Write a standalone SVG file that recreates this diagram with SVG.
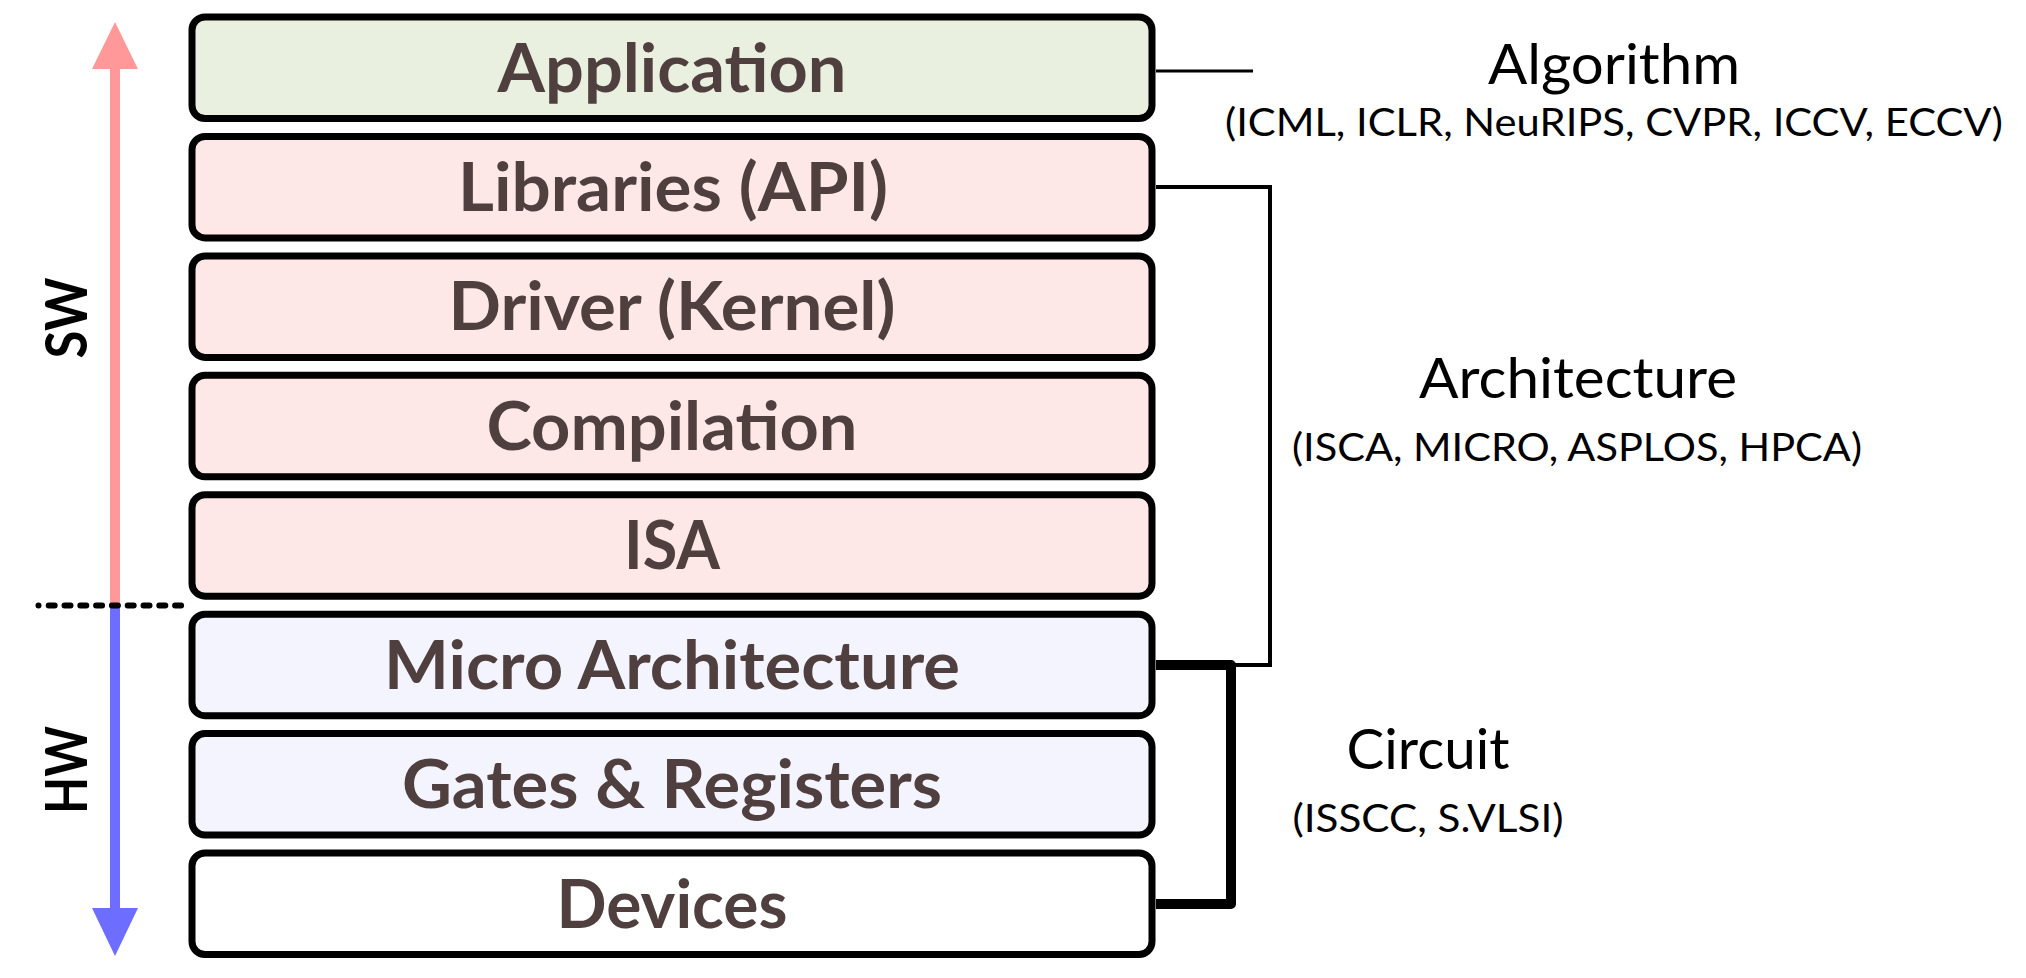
<svg xmlns="http://www.w3.org/2000/svg" width="2026" height="978" viewBox="0 0 2026 978">
<style>
.box{stroke:#000;stroke-width:7}
.lbl{font-family:Lato,"Open Sans",sans-serif;font-weight:bold;font-size:66px;fill:#4F3F3F;text-anchor:middle}
.side{font-family:Lato,"Open Sans",sans-serif;font-weight:bold;font-size:58px;fill:#000;text-anchor:middle}
.ttl{font-family:Lato,"Open Sans",sans-serif;font-size:57px;fill:#000;text-anchor:middle}
.sub{font-family:Lato,"Open Sans",sans-serif;font-size:38px;fill:#000;text-anchor:middle}
.conn{fill:none;stroke:#000}
</style>
<rect width="2026" height="978" fill="#fff"/>
<g id="swhw-axis">
<rect x="110" y="66" width="10" height="540" fill="#FF9999"/>
<polygon points="115,22 138,69 92,69" fill="#FF9999"/>
<rect x="110" y="605" width="10" height="305" fill="#6D6DFF"/>
<polygon points="115,956 138,908 92,908" fill="#6D6DFF"/>
<circle cx="38.5" cy="605.5" r="3" fill="#000"/>
<line x1="48.7" y1="605.5" x2="185" y2="605.5" stroke="#000" stroke-width="6" stroke-linecap="round" stroke-dasharray="6 9.8"/>
<text class="side" transform="translate(66,318) rotate(-90)" x="0" y="21" textLength="81" lengthAdjust="spacingAndGlyphs">SW</text>
<text class="side" transform="translate(66,770) rotate(-90)" x="0" y="21" textLength="88" lengthAdjust="spacingAndGlyphs">HW</text>
</g>
<g id="application"><rect class="box" x="192" y="17" width="960" height="101.5" rx="13" fill="#E9F0DF"/><text class="lbl" x="672" y="91.5" textLength="349" lengthAdjust="spacingAndGlyphs">Application</text></g>
<g id="libraries"><rect class="box" x="192" y="136.4" width="960" height="101.5" rx="13" fill="#FDE8E7"/><text class="lbl" x="673" y="211" textLength="430" lengthAdjust="spacingAndGlyphs">Libraries (API)</text></g>
<g id="driver"><rect class="box" x="192" y="255.9" width="960" height="101.5" rx="13" fill="#FDE8E7"/><text class="lbl" x="672" y="330.4" textLength="447" lengthAdjust="spacingAndGlyphs">Driver (Kernel)</text></g>
<g id="compilation"><rect class="box" x="192" y="375.3" width="960" height="101.5" rx="13" fill="#FDE8E7"/><text class="lbl" x="672" y="449.8" textLength="371" lengthAdjust="spacingAndGlyphs">Compilation</text></g>
<g id="isa"><rect class="box" x="192" y="494.7" width="960" height="101.5" rx="13" fill="#FDE8E7"/><text class="lbl" x="672" y="569.2" textLength="96" lengthAdjust="spacingAndGlyphs">ISA</text></g>
<g id="micro-architecture"><rect class="box" x="192" y="614.2" width="960" height="101.5" rx="13" fill="#F3F4FE"/><text class="lbl" x="672" y="688.7" textLength="576" lengthAdjust="spacingAndGlyphs">Micro Architecture</text></g>
<g id="gates-registers"><rect class="box" x="192" y="733.6" width="960" height="101.5" rx="13" fill="#F3F4FE"/><text class="lbl" x="672" y="808.1" textLength="540" lengthAdjust="spacingAndGlyphs">Gates &amp; Registers</text></g>
<g id="devices"><rect class="box" x="192" y="853" width="960" height="101.5" rx="13" fill="#FFFFFF"/><text class="lbl" x="672" y="927.5" textLength="231" lengthAdjust="spacingAndGlyphs">Devices</text></g>
<g id="connectors">
<line class="conn" x1="1156" y1="71" x2="1253" y2="71" stroke-width="3"/>
<polyline class="conn" points="1156,187 1270,187 1270,665 1156,665" stroke-width="4"/>
<polyline class="conn" points="1156,665 1231,665 1231,904 1156,904" stroke-width="10" stroke-linejoin="round"/>
</g>
<g id="algorithm"><text class="ttl" x="1614" y="84" textLength="252" lengthAdjust="spacingAndGlyphs">Algorithm</text><text class="sub" x="1614" y="136" textLength="778" lengthAdjust="spacingAndGlyphs">(ICML, ICLR, NeuRIPS, CVPR, ICCV, ECCV)</text></g>
<g id="architecture"><text class="ttl" x="1578" y="398" textLength="318" lengthAdjust="spacingAndGlyphs">Architecture</text><text class="sub" x="1577" y="461" textLength="570" lengthAdjust="spacingAndGlyphs">(ISCA, MICRO, ASPLOS, HPCA)</text></g>
<g id="circuit"><text class="ttl" x="1428" y="769" textLength="163" lengthAdjust="spacingAndGlyphs">Circuit</text><text class="sub" x="1428" y="832" textLength="271" lengthAdjust="spacingAndGlyphs">(ISSCC, S.VLSI)</text></g>
</svg>
